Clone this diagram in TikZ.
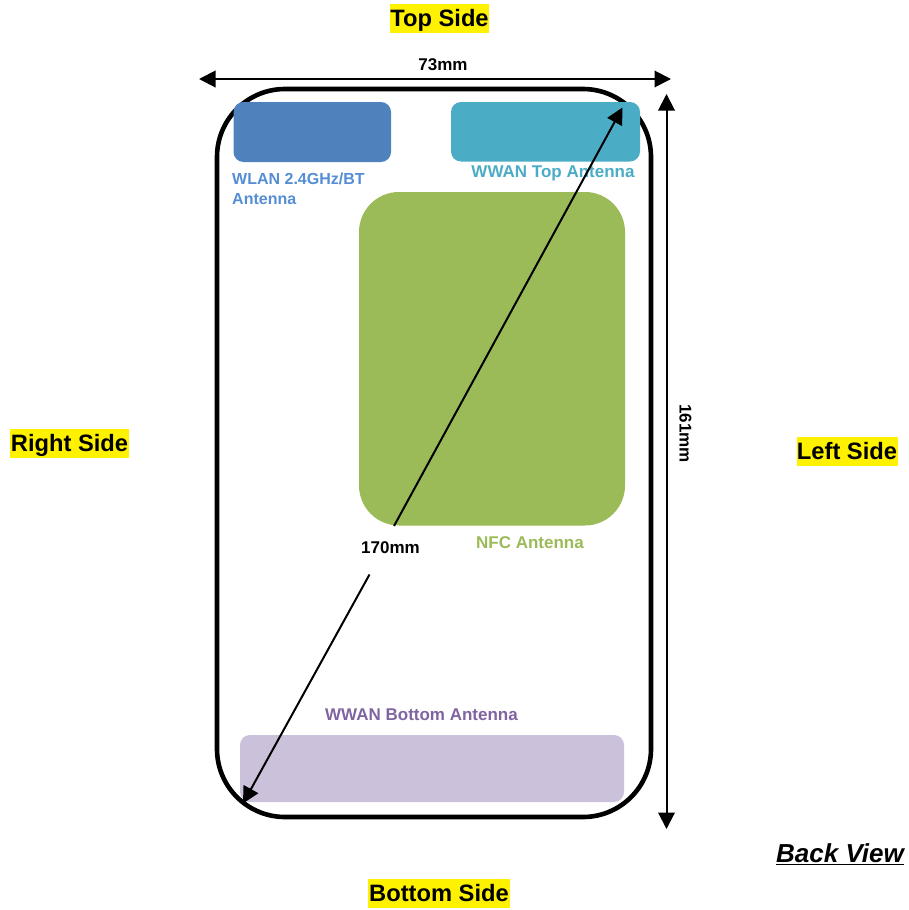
\documentclass[tikz,border=0pt]{standalone}
\usepackage{fontspec}
\setmainfont{Liberation Sans}
\usetikzlibrary{arrows.meta}
\definecolor{wlanfill}{HTML}{4F81BD}
\definecolor{wlantext}{HTML}{558ED5}
\definecolor{wwanfill}{HTML}{4BACC6}
\definecolor{nfcfill}{HTML}{9BBB59}
\definecolor{botfill}{HTML}{CCC1DA}
\definecolor{bottext}{HTML}{8064A2}
\tikzset{
  side/.style={fill=yellow,inner sep=0pt,text height=22.5pt,text depth=6.5pt,font=\fontsize{23.7}{26}\selectfont\bfseries,text=black},
  ant/.style={inner sep=0pt,outer sep=0pt,anchor=north west},
  lab/.style={inner sep=0pt,font=\fontsize{17}{19}\selectfont\bfseries},
  wlanlabel/.style={inner sep=0pt,font=\fontsize{16}{19.5}\selectfont\bfseries},
  dim/.style={inner sep=0pt,font=\fontsize{17}{19}\selectfont\bfseries,text=black},
  arr/.style={draw=black,line width=2pt,{Triangle[length=16.5pt,width=16.5pt]}-{Triangle[length=16.5pt,width=16.5pt]}},
  arrone/.style={draw=black,line width=2pt,-{Triangle[length=16.5pt,width=16.5pt]}},
  body/.style={draw=black,line width=4.6pt,rounded corners=68pt}
}
\begin{document}
\begin{tikzpicture}[x=1pt,y=-1pt]
\useasboundingbox[fill=white] (0,0) rectangle (909,910);
% phone outline
\draw[body] (217,89) rectangle (651,817);
% antennas
\fill[wlanfill,rounded corners=10pt] (233.5,102) rectangle (391,162);
\node[ant,minimum width=157.5pt,minimum height=60pt] (wlan) at (233.5,102) {};
\fill[wwanfill,rounded corners=10pt] (451,102) rectangle (640,161.5);
\node[ant,minimum width=189pt,minimum height=59.5pt] (wwan) at (451,102) {};
\fill[nfcfill,rounded corners=40pt] (359,192) rectangle (625,525.5);
\node[ant,minimum width=266pt,minimum height=333.5pt] (nfc) at (359,192) {};
\fill[botfill,rounded corners=10pt] (240,735) rectangle (624,802);
\node[ant,minimum width=384pt,minimum height=67pt] (bot) at (240,735) {};
% antenna labels
\node[wlanlabel,text=wlantext,anchor=west,align=left] (wlanlab) at (232,189) {WLAN 2.4GHz/BT\\Antenna};
\node[lab,text=wwanfill] (wwanlab) at (553,173) {WWAN Top Antenna};
\node[lab,text=nfcfill] (nfclab) at (530,543) {NFC Antenna};
\node[lab,text=bottext] (botlab) at (421.5,715) {WWAN Bottom Antenna};
% side labels
\node[side,minimum width=99pt] (top) at (439.5,18.5) {Top Side};
\node[side,minimum width=142pt] (bottom) at (439,893.5) {Bottom Side};
\node[side,minimum width=119pt] (right) at (69.5,443.5) {Right Side};
\node[side,minimum width=101pt] (left) at (847,451.5) {Left Side};
\node[inner sep=0pt,font=\fontsize{26}{28}\selectfont\bfseries\itshape] (back) at (840,854.5) {\underline{Back View}};
% dimensions
\node[dim] (w) at (443,64.5) {73mm};
\node[dim,rotate=-90] (h) at (685.5,433.5) {161mm};
\node[dim] (d) at (390.5,547.5) {170mm};
\coordinate (wa) at (199,79);
\coordinate (wb) at (671,79);
\coordinate (ha) at (666.5,94);
\coordinate (hb) at (666.5,829);
\coordinate (da) at (622.5,107.5);
\coordinate (db) at (243,803.5);
\coordinate (dua) at (394,526);
\coordinate (dub) at (369.5,574.5);
\draw[arr] (wa) -- (wb);
\draw[arr] (ha) -- (hb);
\draw[arrone] (dua) -- (da);
\draw[arrone] (dub) -- (db);
\end{tikzpicture}
\end{document}
